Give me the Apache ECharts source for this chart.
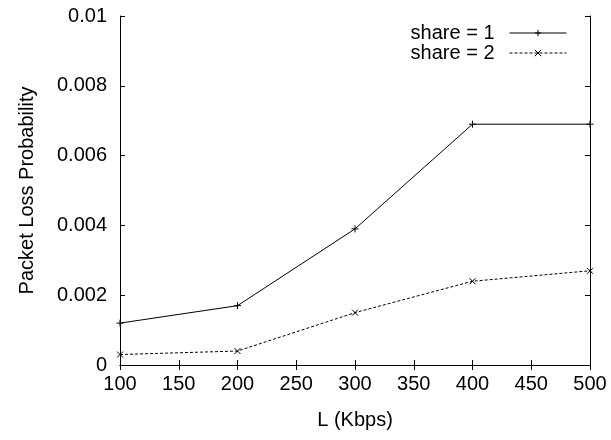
<!DOCTYPE html>
<html>
<head>
    <meta charset="utf-8">
    <script src="https://cdn.jsdelivr.net/npm/echarts@6/dist/echarts.min.js"></script>
</head>
<body style="margin:0">
<div id="chart" style="width: 611px; height: 440px;"></div>
<script type="text/javascript">
    // Data
    var bandwidth = [100, 200, 300, 400, 500];
    var share1 = [0.0012, 0.0017, 0.0039, 0.0069, 0.0069];
    var share2 = [0.0003, 0.0004, 0.0015, 0.0024, 0.0027];
    var seriesNames = ['share = 1', 'share = 2'];

    var font = 'Liberation Sans, Arial, sans-serif';
    var plusSym = 'path://M0,5L10,5M5,0L5,10';
    var crossSym = 'path://M0,0L10,10M10,0L0,10';

    function pairs(ys) {
        return bandwidth.map((x, i) => [x, ys[i]]);
    }

    var tickStyle = { inside: true, length: 5, lineStyle: { color: '#000' } };
    var lineAx = { show: true, lineStyle: { color: '#000', width: 1 } };

    var chart = echarts.init(document.getElementById('chart'));
    var option = {
        animation: false,
        backgroundColor: '#fff',
        textStyle: { fontFamily: font },
        grid: { left: 120, right: 21, top: 16, bottom: 75 },
        legend: {
            orient: 'vertical',
            right: 39,
            top: 18,
            align: 'right',
            itemWidth: 57,
            itemHeight: 8,
            itemGap: 0,
            lineStyle: { width: 1 },
            itemStyle: { borderWidth: 1 },
            textStyle: { fontSize: 20, color: '#000', fontFamily: font, padding: [0, 10, 0, 0] },
            data: seriesNames
        },
        xAxis: [{
            type: 'value', min: 100, max: 500, interval: 50,
            name: 'L (Kbps)', nameLocation: 'middle', nameGap: 45,
            nameTextStyle: { fontSize: 20, color: '#000' },
            axisLine: lineAx, axisTick: tickStyle,
            axisLabel: { fontSize: 20, color: '#000', margin: 9 },
            splitLine: { show: false }
        }, {
            type: 'value', min: 100, max: 500, interval: 50, position: 'top',
            axisLine: lineAx, axisTick: tickStyle,
            axisLabel: { show: false }, splitLine: { show: false }
        }],
        yAxis: [{
            type: 'value', min: 0, max: 0.01, interval: 0.002,
            name: 'Packet Loss Probability', nameLocation: 'middle', nameGap: 83,
            nameTextStyle: { fontSize: 20, color: '#000' },
            axisLine: lineAx, axisTick: tickStyle,
            axisLabel: { fontSize: 20, color: '#000', margin: 13 },
            splitLine: { show: false }
        }, {
            type: 'value', min: 0, max: 0.01, interval: 0.002, position: 'right',
            axisLine: lineAx, axisTick: tickStyle,
            axisLabel: { show: false }, splitLine: { show: false }
        }],
        series: [{
            name: seriesNames[0],
            type: 'line',
            data: pairs(share1),
            symbol: plusSym,
            symbolSize: 7,
            lineStyle: { color: '#000', width: 1 },
            itemStyle: { color: '#000', borderColor: '#000', borderWidth: 1 }
        }, {
            name: seriesNames[1],
            type: 'line',
            data: pairs(share2),
            symbol: crossSym,
            symbolSize: 6,
            lineStyle: { color: '#000', width: 1, type: [3, 2] },
            itemStyle: { color: '#000', borderColor: '#000', borderWidth: 1 }
        }]
    };
    chart.setOption(option);
</script>
</body>
</html>
